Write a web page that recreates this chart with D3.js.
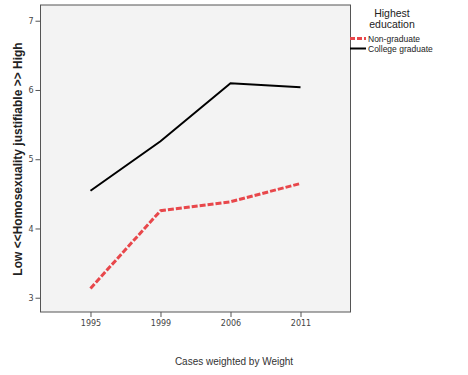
<!DOCTYPE html>
<html>
<head>
<meta charset="utf-8">
<script src="https://cdn.jsdelivr.net/npm/d3@7"></script>
<style>
  body { margin: 0; background: #fff; }
  svg { display: block; font-family: "Liberation Sans", Arial, sans-serif; }
</style>
</head>
<body>
<div id="chart"></div>
<script>
// Survey years and mean scores by education group
const years = ['1995', '1999', '2006', '2011'];
const nonGraduate = [3.135, 4.256, 4.386, 4.65];
const collegeGraduate = [4.545, 5.26, 6.096, 6.04];
const yTicks = [3, 4, 5, 6, 7];

const width = 468, height = 375;
const plot = { left: 40.5, top: 5, right: 350.5, bottom: 312 };

const svg = d3.select('#chart').append('svg')
    .attr('width', width)
    .attr('height', height);

const x = d3.scalePoint()
    .domain(years)
    .range([plot.left, plot.right])
    .padding(0.714);

const y = d3.scaleLinear()
    .domain([2.794, 7.227])
    .range([plot.bottom, plot.top]);

// Plot background
svg.append('rect')
    .attr('x', plot.left)
    .attr('y', plot.top)
    .attr('width', plot.right - plot.left)
    .attr('height', plot.bottom - plot.top)
    .attr('fill', '#f3f3f3')
    .attr('stroke', '#555')
    .attr('stroke-width', 1);

// Axes
const xAxis = svg.append('g')
    .attr('transform', `translate(0,${plot.bottom})`)
    .call(d3.axisBottom(x).tickSize(5).tickPadding(3));
xAxis.select('.domain').remove();

const yAxis = svg.append('g')
    .attr('transform', `translate(${plot.left},0)`)
    .call(d3.axisLeft(y).tickValues(yTicks).tickFormat(d3.format('d')).tickSize(5).tickPadding(2));
yAxis.select('.domain').remove();

svg.selectAll('.tick line').attr('stroke', '#555');
svg.selectAll('.tick text')
    .attr('fill', '#444')
    .style('font-family', '"DejaVu Sans", sans-serif')
    .style('font-size', '8px');

// Lines
const line = d3.line()
    .x((d, i) => x(years[i]))
    .y(d => y(d));

svg.append('path')
    .datum(collegeGraduate)
    .attr('d', line)
    .attr('fill', 'none')
    .attr('stroke', '#000')
    .attr('stroke-width', 2);

svg.append('path')
    .datum(nonGraduate)
    .attr('d', line)
    .attr('fill', 'none')
    .attr('stroke', '#e8474b')
    .attr('stroke-width', 3)
    .attr('stroke-dasharray', '6,2');

// Axis titles
svg.append('text')
    .attr('transform', 'translate(22,159) rotate(-90)')
    .attr('text-anchor', 'middle')
    .style('font-size', '12px')
    .style('font-weight', 'bold')
    .attr('fill', '#222')
    .text('Low <<Homosexuality justifiable >> High');

svg.append('text')
    .attr('x', 234)
    .attr('y', 365)
    .attr('text-anchor', 'middle')
    .style('font-size', '10px')
    .attr('fill', '#333')
    .text('Cases weighted by Weight');

// Legend
const legend = svg.append('g');
legend.append('text')
    .attr('x', 392).attr('y', 17)
    .attr('text-anchor', 'middle')
    .style('font-size', '10.5px')
    .attr('fill', '#222')
    .text('Highest');
legend.append('text')
    .attr('x', 392).attr('y', 28)
    .attr('text-anchor', 'middle')
    .style('font-size', '10.5px')
    .attr('fill', '#222')
    .text('education');

const items = [
    { label: 'Non-graduate', color: '#e8474b', width: 3, dash: '5,2', y: 38.5 },
    { label: 'College graduate', color: '#000', width: 2, dash: null, y: 48.5 }
];
items.forEach(it => {
    legend.append('line')
        .attr('x1', 350).attr('x2', 366)
        .attr('y1', it.y).attr('y2', it.y)
        .attr('stroke', it.color)
        .attr('stroke-width', it.width)
        .attr('stroke-dasharray', it.dash);
    legend.append('text')
        .attr('x', 368).attr('y', it.y + 3)
        .style('font-size', '8.5px')
        .attr('fill', '#222')
        .text(it.label);
});
</script>
</body>
</html>
